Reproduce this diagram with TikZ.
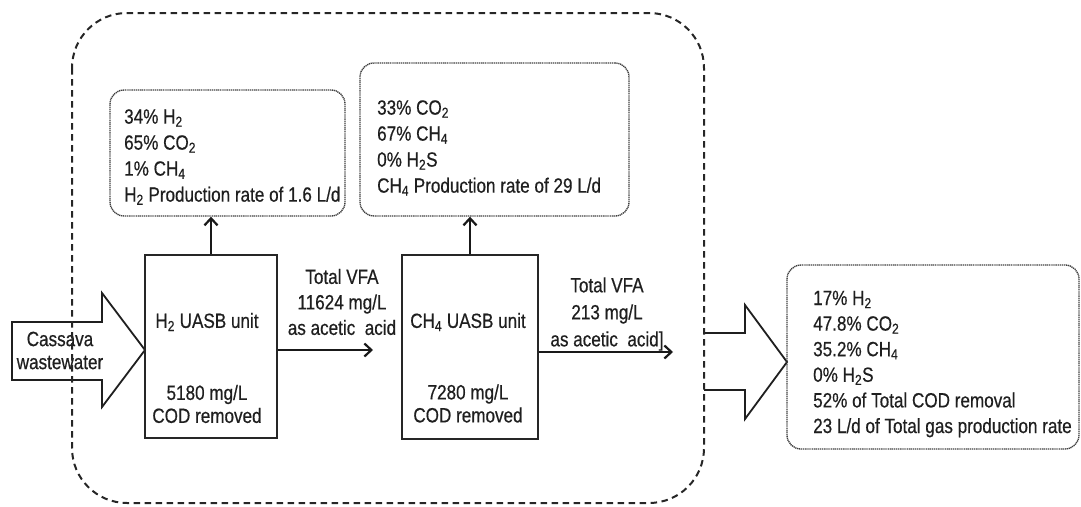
\documentclass[tikz,border=0pt]{standalone}
\usepackage{fontspec}
\setmainfont{Liberation Sans}[FakeStretch=0.83,FakeBold=0.5]
\usetikzlibrary{arrows.meta}
\newcommand\sbs[1]{\textsubscript{#1}}
\begin{document}
\begin{tikzpicture}[x=1pt,y=-1pt,
  txt/.style={font=\fontsize{20.6}{26}\selectfont, text=black!88, inner sep=0pt, align=left},
  ctxt/.style={txt, align=center},
  gasbox/.style={draw=black!75, line width=1.4pt, dash pattern=on 1.2pt off 0.7pt, rounded corners=14pt, inner sep=0pt},
  unitbox/.style={draw=black!85, line width=1.2pt, inner sep=0pt},
  flow/.style={line width=2.2pt, draw=black!90, -{Straight Barb[length=7pt,width=13pt,line width=2.2pt]}},
  blockarrow/.style={draw=black!88, line width=1.8pt, fill=white, line join=miter},
  outer/.style={draw=black!85, line width=2pt, dash pattern=on 6.5pt off 4.5pt, rounded corners=55pt}]
\useasboundingbox (0,0) rectangle (1081,506);

% block arrows
\draw[blockarrow] (12,322) -- (102,322) -- (102,293) -- (145,350) -- (102,407) -- (102,380) -- (12,380) -- cycle;
\draw[blockarrow] (704,333) -- (745,333) -- (745,305) -- (787,362) -- (745,419) -- (745,390) -- (704,390);

% boxes
\node[gasbox, minimum width=235pt, minimum height=126pt] (g1) at (227.5,153) {};
\node[gasbox, minimum width=269pt, minimum height=153pt] (g2) at (494.5,139.5) {};
\node[gasbox, minimum width=292pt, minimum height=184pt] (g3) at (933,357) {};
\node[unitbox, minimum width=132pt, minimum height=183pt] (h2u) at (211,346.5) {};
\node[unitbox, minimum width=136pt, minimum height=184pt] (ch4u) at (470,347) {};

% texts
\node[txt, anchor=west] (t1) at (124,157) {34\% H\sbs{2}\\65\% CO\sbs{2}\\1\% CH\sbs{4}\\H\sbs{2} Production rate of 1.6 L/d};
\node[txt, anchor=west] (t2) at (377,148) {33\% CO\sbs{2}\\67\% CH\sbs{4}\\0\% H\sbs{2}S\\CH\sbs{4} Production rate of 29 L/d};
\node[txt, anchor=west, font=\fontsize{20.6}{25.6}\selectfont] (t3) at (813,364) {17\% H\sbs{2}\\47.8\% CO\sbs{2}\\35.2\% CH\sbs{4}\\0\% H\sbs{2}S\\52\% of Total COD removal\\23 L/d of Total gas production rate};
\node[ctxt] (h2name) at (207,322) {H\sbs{2} UASB unit};
\node[ctxt, font=\fontsize{20.6}{23}\selectfont] (h2cod) at (207,404) {5180 mg/L\\COD removed};
\node[ctxt] (ch4name) at (468,322) {CH\sbs{4} UASB unit};
\node[ctxt, font=\fontsize{20.6}{23}\selectfont] (ch4cod) at (468,403.5) {7280 mg/L\\COD removed};
\node[ctxt, font=\fontsize{20.6}{23}\selectfont] (cas) at (60,350.5) {Cassava\\wastewater};
\node[ctxt, font=\fontsize{20.6}{25.5}\selectfont] (vfa1) at (342,302) {Total VFA\\11624 mg/L\\as acetic~ acid};
\node[ctxt, font=\fontsize{20.6}{27}\selectfont] (vfa2) at (607,314) {Total VFA\\213 mg/L\\as acetic~ acid]};

% connectors
\coordinate (a1e) at (373,350);
\coordinate (a2e) at (673,352);
\draw[flow] (h2u.north) -- (h2u.north |- g1.south);
\draw[flow] (ch4u.north) -- (ch4u.north |- g2.south);
\draw[flow] (h2u.east |- a1e) -- (a1e);
\draw[flow] (ch4u.east |- a2e) -- (a2e);

% outer dashed boundary
\draw[outer] (72,13) rectangle (704,503);
\end{tikzpicture}
\end{document}
